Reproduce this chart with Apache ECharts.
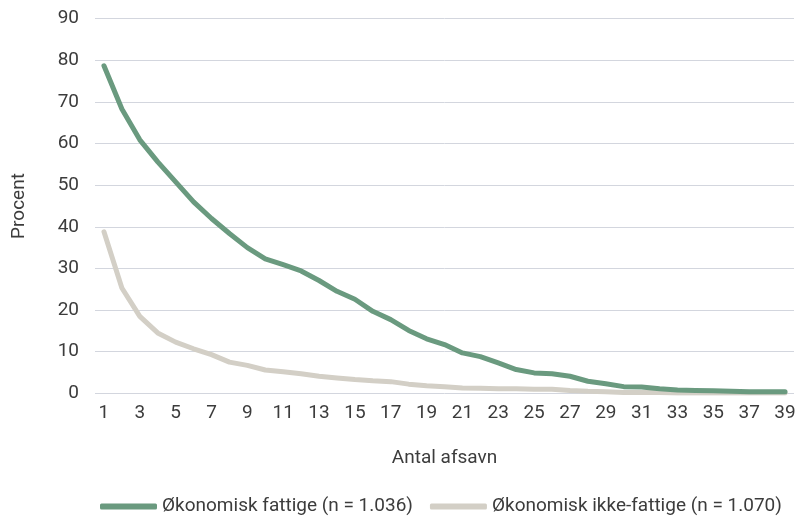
<!DOCTYPE html>
<html><head><meta charset="utf-8">
<script src="https://cdn.jsdelivr.net/npm/echarts@6/dist/echarts.min.js"></script>
<style>html,body{margin:0;padding:0;background:#fff}#c{width:799px;height:519px}</style>
</head><body><div id="c"></div>
<script>
const categories = Array.from({length:39},(_,i)=>String(i+1));
const fattige = [78.7,68.3,60.9,55.6,50.8,46.0,42.0,38.4,35.0,32.3,30.9,29.4,27.1,24.5,22.6,19.7,17.7,15.1,13.1,11.7,9.7,8.8,7.3,5.7,4.9,4.7,4.1,2.9,2.3,1.6,1.5,1.1,0.8,0.7,0.6,0.5,0.4,0.4,0.4];
const ikkeFattige = [38.8,25.3,18.5,14.5,12.3,10.7,9.3,7.5,6.7,5.6,5.2,4.7,4.1,3.7,3.3,3.0,2.8,2.2,1.8,1.6,1.3,1.2,1.1,1.1,1.0,1.0,0.7,0.5,0.4,0.2,0.2,0.2,0.1,0.1,0.1,0.1,0.1,0.1,0.1];
const seriesNames = ['Økonomisk fattige (n = 1.036)','Økonomisk ikke-fattige (n = 1.070)'];
const colors = ['#6a9a7f','#d3cfc6'];
const font = 'Roboto, sans-serif';
const textColor = '#3c3c3c';
const chart = echarts.init(document.getElementById('c'));
chart.setOption({
  animation:false,
  color:colors,
  grid:{left:95,right:5,top:18.7,bottom:125.7,containLabel:false},
  legend:{top:497,left:100,width:760,itemWidth:57,itemHeight:6,itemGap:17,padding:0,
    textStyle:{fontFamily:font,fontSize:19,color:textColor},
    icon:'roundRect',
    data:seriesNames},
  xAxis:{type:'category',data:categories,boundaryGap:true,
    name:'Antal afsavn',nameLocation:'middle',nameGap:55,
    nameTextStyle:{fontFamily:font,fontSize:19,color:textColor},
    axisLine:{show:false},axisTick:{show:false},
    axisLabel:{interval:1,fontFamily:font,fontSize:19,color:textColor,margin:10}},
  yAxis:{type:'value',min:0,max:90,interval:10,
    name:'Procent',nameLocation:'middle',nameGap:66,
    nameTextStyle:{fontFamily:font,fontSize:19,color:textColor},
    axisLabel:{fontFamily:font,fontSize:19,color:textColor,margin:16},
    splitLine:{lineStyle:{color:'#d3d6de',width:1}}},
  series:[
    {name:seriesNames[0],type:'line',data:fattige,symbol:'none',lineStyle:{width:5,cap:'round',join:'round'},z:3},
    {name:seriesNames[1],type:'line',data:ikkeFattige,symbol:'none',lineStyle:{width:5,cap:'round',join:'round'},z:2}
  ]
});
</script></body></html>
